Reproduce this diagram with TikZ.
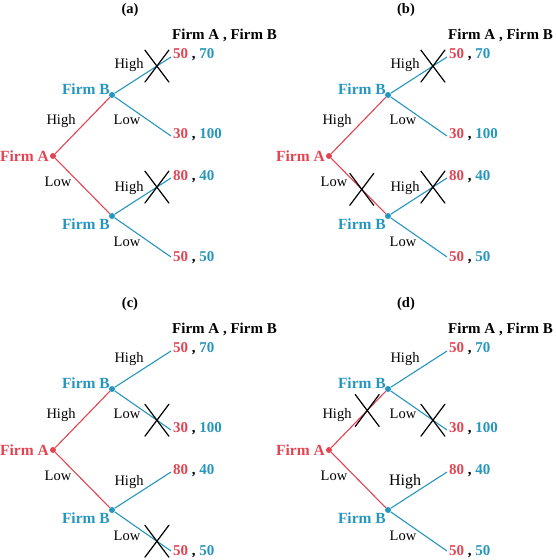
\documentclass[tikz,border=0pt]{standalone}
\usepackage{fontspec}
\setmainfont{Liberation Serif}
\definecolor{fa}{RGB}{226,68,82}
\definecolor{fb}{RGB}{38,150,190}
\tikzset{
  br/.style={line width=1.1pt},
  abr/.style={br, draw=fa},
  bbr/.style={br, draw=fb},
  dotA/.style={circle, fill=fa, inner sep=0pt, minimum size=6pt},
  dotB/.style={circle, fill=fb, inner sep=0pt, minimum size=6pt},
  plabA/.style={font=\fontsize{15.5}{17}\selectfont\bfseries, text=fa, inner sep=0pt},
  plabB/.style={font=\fontsize{15.5}{17}\selectfont\bfseries, text=fb, inner sep=0pt},
  elab/.style={font=\fontsize{14.5}{16}\selectfont, inner sep=0pt},
  pay/.style={font=\fontsize{15}{17}\selectfont\bfseries, anchor=west, inner sep=0pt},
  ptitle/.style={font=\fontsize{14.5}{16}\selectfont\bfseries, inner sep=0pt},
  xmark/.pic={\draw[line width=1.2pt, line cap=round] (-12,-16) -- (12,16) (-12,16) -- (12,-16);}
}
\newcommand\gtree[3]{%
  \node[ptitle] (#1title) at (130,10) {#2};
  \node[pay] (#1head) at (172,35) {Firm A , Firm B};
  \node[dotA] (#1A) at (53,156) {};
  \node[dotB] (#1B1) at (112,95) {};
  \node[dotB] (#1B2) at (112,216) {};
  \coordinate (#1T1) at (171,57);
  \coordinate (#1T2) at (171,136);
  \coordinate (#1T3) at (171,178);
  \coordinate (#1T4) at (171,257);
  \draw[abr] (#1A) -- (#1B1);
  \draw[abr] (#1A) -- (#1B2);
  \draw[bbr] (#1B1) -- (#1T1);
  \draw[bbr] (#1B1) -- (#1T2);
  \draw[bbr] (#1B2) -- (#1T3);
  \draw[bbr] (#1B2) -- (#1T4);
  \node[plabA, anchor=east] (#1lA) at (49,156) {Firm A};
  \node[plabB, anchor=east] (#1lB1) at (110,89) {Firm B};
  \node[plabB, anchor=east] (#1lB2) at (110,224) {Firm B};
  \node[pay] (#1p1) at (173,55) {{\color{fa}50} , {\color{fb}70}};
  \node[pay] (#1p2) at (173,135) {{\color{fa}30} , {\color{fb}100}};
  \node[pay] (#1p3) at (173,177) {{\color{fa}80} , {\color{fb}40}};
  \node[pay] (#1p4) at (173,258) {{\color{fa}50} , {\color{fb}50}};
  \node[elab] (#1e1) at (61,121) {High};
  \node[elab] (#1e2) at (58,182) {Low};
  \node[elab] (#1e3) at (129,65) {High};
  \node[elab] (#1e4) at (127,120) {Low};
  \node[elab#3] (#1e5) at (129,188) {High};
  \node[elab] (#1e6) at (127,242) {Low};
}
\begin{document}
\begin{tikzpicture}[x=1pt, y=-1pt]
\useasboundingbox (0,0) rectangle (556,560);
% (a)
\begin{scope}
  \gtree{a}{(a)}{}
  \path (aB1) -- (aT1) pic[pos=0.75] {xmark};
  \path (aB2) -- (aT3) pic[pos=0.75] {xmark};
\end{scope}
% (b)
\begin{scope}[shift={(276,0)}]
  \gtree{b}{(b)}{}
  \path (bB1) -- (bT1) pic[pos=0.75] {xmark};
  \path (bB2) -- (bT3) pic[pos=0.75] {xmark};
  \path (bA) -- (bB2) pic[pos=0.56] {xmark};
\end{scope}
% (c)
\begin{scope}[shift={(0,294)}]
  \gtree{c}{(c)}{}
  \path (cB1) -- (cT2) pic[pos=0.75] {xmark};
  \path (cB2) -- (cT4) pic[pos=0.75] {xmark};
\end{scope}
% (d)
\begin{scope}[shift={(276,294)}]
  \gtree{d}{(d)}{, font=\fontsize{16}{18}\selectfont}
  \path (dB1) -- (dT2) pic[pos=0.75] {xmark};
  \path (dA) -- (dB1) pic[pos=0.66] {xmark};
\end{scope}
\end{tikzpicture}
\end{document}
